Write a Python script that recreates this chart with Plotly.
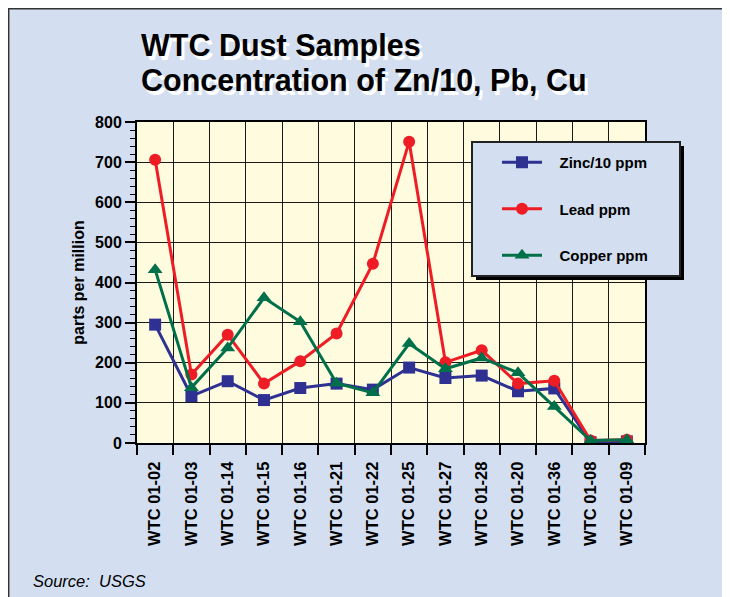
import plotly.graph_objects as go

samples = ["WTC 01-02", "WTC 01-03", "WTC 01-14", "WTC 01-15", "WTC 01-16", "WTC 01-21",
           "WTC 01-22", "WTC 01-25", "WTC 01-27", "WTC 01-28", "WTC 01-20", "WTC 01-36",
           "WTC 01-08", "WTC 01-09"]
zinc_div10 = [295, 117, 154, 107, 137, 148, 133, 188, 162, 168, 129, 136, 2, 4]
lead = [706, 171, 270, 148, 204, 273, 447, 751, 201, 231, 148, 155, 6, 8]
copper = [432, 138, 237, 362, 302, 149, 125, 248, 185, 212, 175, 91, 6, 8]
series_names = ["Zinc/10 ppm", "Lead ppm", "Copper ppm"]
y_ticks = [0, 100, 200, 300, 400, 500, 600, 700, 800]

FONT = "Liberation Sans, Arial, Helvetica, sans-serif"
PANEL = "#D3DFF0"
PLOTBG = "#FFFBDF"
COLORS = ["#2E3192", "#EE1D25", "#00704A"]
SYMBOLS = ["square", "circle", "triangle-up"]

OFF = 8  # page body margin; figure starts at page (8, 8)
W, H = 730 - OFF, 597 - OFF
L, T = 137 - OFF, 122 - OFF
R = W - (645 - OFF)
B = H - (443 - OFF)
PW, PH = W - L - R, H - T - B


def px(x):  # page pixel -> paper fraction
    return (x - OFF - L) / PW


def py(y):
    return (H - B - (y - OFF)) / PH


fig = go.Figure()
NB = "\u00a0"
for vals, name, col, sym in zip([zinc_div10, lead, copper], series_names, COLORS, SYMBOLS):
    fig.add_trace(go.Scatter(
        x=samples, y=vals, name=NB * 3 + name, mode="lines+markers",
        legendgroup=name,
        line=dict(color=col, width=3),
        marker=dict(color=col, symbol=sym, size=12 if sym != "triangle-up" else 13),
    ))

shapes = [
    # panel shadow on right
    dict(type="rect", xref="paper", yref="paper", x0=px(727), x1=px(740), y0=py(610), y1=py(11),
         fillcolor="black", line=dict(width=0), layer="below"),
    # panel border
    dict(type="rect", xref="paper", yref="paper", x0=px(8.7), x1=px(727), y0=py(620), y1=py(8.7),
         fillcolor="rgba(0,0,0,0)", line=dict(color="#333333", width=1.5), layer="below"),
    # legend shadow and box
    dict(type="rect", xref="paper", yref="paper", x0=px(476), x1=px(684), y0=py(280), y1=py(146),
         fillcolor="black", line=dict(width=0), layer="above"),
    dict(type="rect", xref="paper", yref="paper", x0=px(472), x1=px(680), y0=py(276), y1=py(142),
         fillcolor=PANEL, line=dict(color="#222222", width=2), layer="above"),
]

annotations = []
title_lines = [("WTC Dust Samples", 45.5), ("Concentration of Zn/10, Pb, Cu", 80.5)]
for text, yc in title_lines:
    annotations.append(dict(text="<b>" + text + "</b>", xref="paper", yref="paper",
                            x=px(139 + 3), y=py(yc + 4), xanchor="left", yanchor="middle",
                            showarrow=False, font=dict(family=FONT, size=30.5, color="white")))
    annotations.append(dict(text="<b>" + text + "</b>", xref="paper", yref="paper",
                            x=px(139), y=py(yc), xanchor="left", yanchor="middle",
                            showarrow=False, font=dict(family=FONT, size=30.5, color="black")))
annotations.append(dict(text="<i>Source:" + NB + NB + "USGS</i>", xref="paper", yref="paper",
                        x=px(31), y=py(581), xanchor="left", yanchor="middle", showarrow=False,
                        font=dict(family=FONT, size=16.5, color="black")))

fig.update_layout(
    width=W, height=H,
    margin=dict(l=L, r=R, t=T, b=B, pad=0),
    paper_bgcolor=PANEL, plot_bgcolor=PLOTBG,
    font=dict(family=FONT, color="black"),
    shapes=shapes, annotations=annotations,
    showlegend=True,
    legend=dict(x=px(497), y=py(146), xanchor="left", yanchor="top",
                bgcolor="rgba(0,0,0,0)", borderwidth=0, itemwidth=40,
                tracegroupgap=24, font=dict(family=FONT, size=15, color="black", weight="bold")),
)

fig.update_xaxes(
    type="category", range=[-0.5, len(samples) - 0.5],
    tickson="boundaries", ticks="outside", ticklen=10, tickwidth=1.5, tickcolor="black",
    showgrid=True, gridcolor="#1a1a1a", gridwidth=1.2,
    showline=True, linecolor="black", linewidth=2, mirror=True,
    tickangle=-90, ticklabelstandoff=10,
    tickfont=dict(family=FONT, size=16.5, color="black", weight="bold"),
)
fig.update_yaxes(
    range=[0, 800], tickvals=y_ticks, ticktext=[str(v) for v in y_ticks],
    ticks="outside", ticklen=10, tickwidth=1.5, tickcolor="black",
    minor=dict(dtick=20, ticks="outside", ticklen=5, tickwidth=1, tickcolor="black", showgrid=False),
    showgrid=True, gridcolor="#1a1a1a", gridwidth=1.2, zeroline=False,
    showline=True, linecolor="black", linewidth=2, mirror=True,
    tickfont=dict(family=FONT, size=16, color="black", weight="bold"),
    title=dict(text="<b>parts per million</b>", standoff=6,
               font=dict(family=FONT, size=16, color="black")),
)

fig.write_html("out.html")
